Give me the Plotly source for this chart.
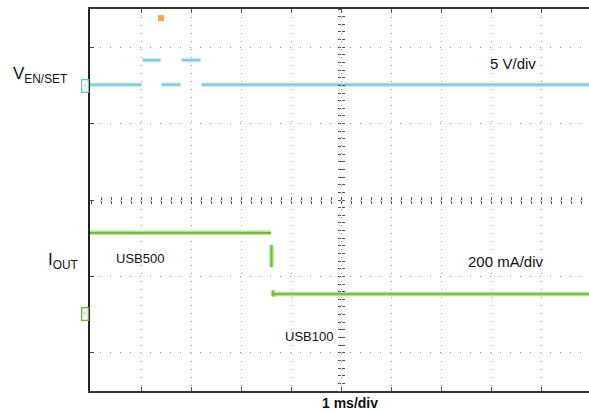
import plotly.graph_objects as go

# ---- data (time in ms relative to screen centre, level in screen units) ----
# V_EN/SET trace segments (None separates segments; fast edges are not drawn on screen)
ven_t = [-5.02, -3.99, None, -3.97, -3.61, None, -3.59, -3.21, None, -3.19, -2.81, None, -2.79, 4.96]
ven_v = [1.51, 1.51, None, 1.83, 1.83, None, 1.51, 1.51, None, 1.83, 1.83, None, 1.51, 1.51]

# I_OUT trace: USB500 level, visible part of falling edge, USB100 level
iout_t = [-5.02, -1.40, None, -1.39, -1.39, None, -1.36, -1.36, -1.34, 4.96]
iout_v = [-0.43, -0.43, None, -0.59, -0.88, None, -1.18, -1.26, -1.23, -1.23]

# channel ground reference levels (markers drawn left of the screen)
gnd_v = [1.49, -1.49]
gnd_colors = ["#6fc6cf", "#6db532"]

# trigger markers
trig_t = [-3.6]
trig_v = [2.38]

x_range = [-5.02, 4.96]
y_range = [-2.5, 2.5]
grid_x = [-4, -3, -2, -1, 0, 1, 2, 3, 4]
grid_y = [-2, -1, 0, 1, 2]

FONT = "Arial, Liberation Sans, sans-serif"

fig = go.Figure()

# cyan trace: halo + core
fig.add_trace(go.Scatter(x=ven_t, y=ven_v, mode="lines", line=dict(color="#c4e9ec", width=4.5),
                         hoverinfo="skip", showlegend=False))
fig.add_trace(go.Scatter(x=ven_t, y=ven_v, mode="lines", line=dict(color="#72c7d0", width=1.6),
                         hoverinfo="skip", showlegend=False))
# green trace: halo + core
fig.add_trace(go.Scatter(x=iout_t, y=iout_v, mode="lines", line=dict(color="#b5de97", width=4.5),
                         hoverinfo="skip", showlegend=False))
fig.add_trace(go.Scatter(x=iout_t, y=iout_v, mode="lines", line=dict(color="#6db532", width=1.6),
                         hoverinfo="skip", showlegend=False))
# trigger marker
fig.add_trace(go.Scatter(x=trig_t, y=trig_v, mode="markers",
                         marker=dict(symbol="square", size=6, color="#f0a848"),
                         hoverinfo="skip", showlegend=False))

def ann(x, y, text, size=15, xanchor="center", bold=False, xref="x", yref="y"):
    fig.add_annotation(x=x, y=y, xref=xref, yref=yref,
                       text=("<b>%s</b>" % text) if bold else text, showarrow=False,
                       xanchor=xanchor, yanchor="middle",
                       font=dict(family=FONT, size=size, color="#111"))

ann(-0.158, 1.64, "V<sub>EN/SET</sub>", size=17, xanchor="left", xref="x domain")
ann(3.44, 1.79, "5 V/div", size=15)
ann(-0.088, -0.80, "I<sub>OUT</sub>", size=17, xanchor="left", xref="x domain")
ann(-4.02, -0.77, "USB500", size=13)
ann(3.3, -0.81, "200 mA/div", size=15)
ann(-0.64, -1.79, "USB100", size=13)
ann(0.18, -0.031, "1 ms/div", size=14, bold=True, yref="y domain")

# ground reference markers at the left edge of the screen
for gv, gc in zip(gnd_v, gnd_colors):
    fig.add_annotation(x=-0.002, y=gv, xref="x domain", yref="y", text="›", showarrow=False,
                       xanchor="right", yanchor="middle", bordercolor=gc, borderwidth=1.3, borderpad=1,
                       font=dict(family=FONT, size=8, color=gc))

fig.update_layout(
    width=589, height=412,
    margin=dict(l=90, r=0, t=9, b=21),
    paper_bgcolor="white", plot_bgcolor="white",
    xaxis=dict(range=x_range, tickvals=grid_x, showticklabels=False, showgrid=True,
               gridcolor="#9a9a9a", gridwidth=1, griddash="1px,7px", zeroline=False,
               showline=True, linecolor="#333", linewidth=1.5, mirror="ticks",
               ticks="inside", ticklen=4, tickcolor="#555"),
    yaxis=dict(range=y_range, tickvals=grid_y, showticklabels=False, showgrid=True,
               gridcolor="#9a9a9a", gridwidth=1, griddash="1px,9px", zeroline=False,
               showline=True, linecolor="#222", linewidth=1.5, mirror=False,
               ticks="inside", ticklen=4, tickcolor="#444"),
    # centre graticule with minor ticks
    xaxis2=dict(overlaying="x", anchor="free", position=0.5, range=x_range, dtick=0.2, tick0=0,
                showticklabels=False, showgrid=False, zeroline=False, showline=False,
                ticks="outside", ticklen=3, tickcolor="#555"),
    xaxis3=dict(overlaying="x", anchor="free", position=0.5, range=x_range, dtick=0.2, tick0=0,
                showticklabels=False, showgrid=False, zeroline=False, showline=False,
                ticks="inside", ticklen=3, tickcolor="#555"),
    yaxis2=dict(overlaying="y", anchor="free", position=(0 - x_range[0]) / (x_range[1] - x_range[0]),
                range=y_range, dtick=0.1, tick0=0,
                showticklabels=False, showgrid=False, zeroline=False, showline=False,
                ticks="outside", ticklen=3, tickcolor="#555"),
    yaxis3=dict(overlaying="y", anchor="free", position=(0 - x_range[0]) / (x_range[1] - x_range[0]),
                range=y_range, dtick=0.1, tick0=0,
                showticklabels=False, showgrid=False, zeroline=False, showline=False,
                ticks="inside", ticklen=3, tickcolor="#555"),
)

# invisible traces so that the centre axes are drawn
fig.add_trace(go.Scatter(x=[None], y=[None], xaxis="x2", yaxis="y2", showlegend=False, hoverinfo="skip"))
fig.add_trace(go.Scatter(x=[None], y=[None], xaxis="x3", yaxis="y3", showlegend=False, hoverinfo="skip"))

fig.write_html("out.html", config={"displayModeBar": False},
               post_script="document.body.style.margin='0';document.body.style.overflow='hidden';")
